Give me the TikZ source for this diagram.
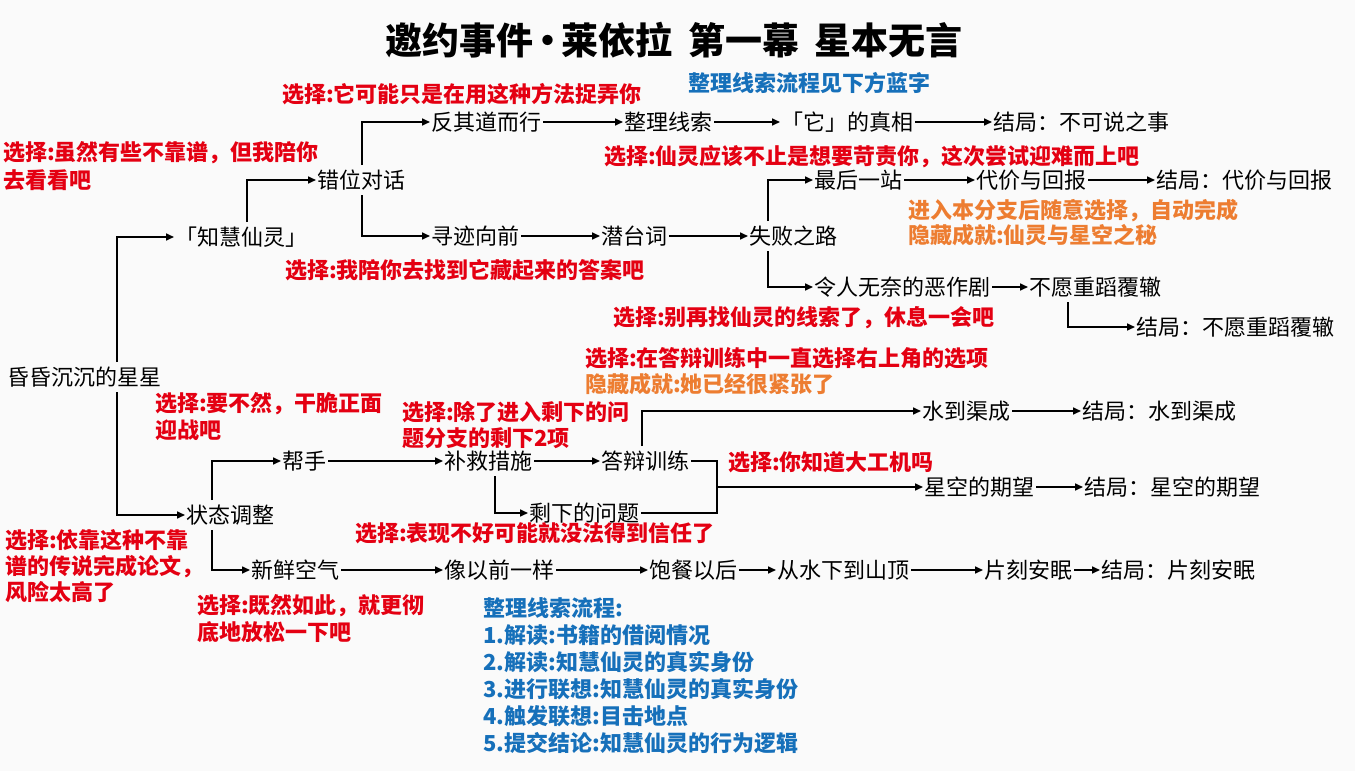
\documentclass[tikz,border=0pt]{standalone}
\usepackage{fontspec}
\setmainfont{Noto Sans CJK SC}
\usetikzlibrary{arrows.meta}
\definecolor{myred}{RGB}{228,0,18}
\definecolor{myorange}{RGB}{237,125,49}
\definecolor{myblue}{RGB}{22,112,186}
\definecolor{bgc}{RGB}{250,250,250}
\begin{document}
\begin{tikzpicture}[x=1pt,y=-1pt,
  nd/.style={inner xsep=1.5pt, inner ysep=4pt, anchor=west, font=\fontsize{22}{26}\selectfont, text height=19pt, text depth=2.6pt},
  lab/.style={inner sep=0pt, anchor=west, align=left, text=myred, font=\fontsize{22}{27}\selectfont\bfseries},
  olab/.style={lab, text=myorange},
  blab/.style={lab, text=myblue},
  ln/.style={line width=1.6pt, line join=miter},
  arr/.style={ln, -{Triangle[length=8pt,width=7pt]}}
]
\fill[bgc] (0,0) rectangle (1355,771);
\useasboundingbox (0,0) rectangle (1355,771);

% title
\node[font=\fontsize{37}{42}\selectfont\bfseries, inner sep=0pt] (title) at (674,40) {邀约事件\kern-0.12em·\kern-0.12em莱依拉\hspace{0.42em}第一幕\hspace{0.42em}星本无言};
\node[blab] (bt) at (688,83) {整理线索流程见下方蓝字};

% nodes
\node[nd] (hh) at (6,377) {昏昏沉沉的星星};
\node[nd] (zh) at (174,237) {「知慧仙灵」};
\node[nd] (cw) at (316,180) {错位对话};
\node[nd] (fq) at (430,122) {反其道而行};
\node[nd] (zl) at (623,122) {整理线索};
\node[nd] (ta) at (780,122) {「它」的真相};
\node[nd] (jb1) at (992,122) {结局：不可说之事};
\node[nd] (xj) at (430,236) {寻迹向前};
\node[nd] (qt) at (600,236) {潜台词};
\node[nd] (sb) at (748,236) {失败之路};
\node[nd] (zz) at (813,180) {最后一站};
\node[nd] (dj) at (975,180) {代价与回报};
\node[nd] (jb2) at (1155,180) {结局：代价与回报};
\node[nd] (lr) at (813,287) {令人无奈的恶作剧};
\node[nd] (by) at (1028,287) {不愿重蹈覆辙};
\node[nd] (jb3) at (1135,327) {结局：不愿重蹈覆辙};
\node[nd] (zt) at (185,515) {状态调整};
\node[nd] (bs) at (281,461) {帮手};
\node[nd] (bj) at (443,461) {补救措施};
\node[nd] (db) at (600,461) {答辩训练};
\node[nd] (sx) at (528,513) {剩下的问题};
\node[nd] (sd) at (921,411) {水到渠成};
\node[nd] (jb4) at (1081,411) {结局：水到渠成};
\node[nd] (xk) at (923,487) {星空的期望};
\node[nd] (jb5) at (1083,487) {结局：星空的期望};
\node[nd] (xx) at (250,570) {新鲜空气};
\node[nd] (xy) at (443,570) {像以前一样};
\node[nd] (bc) at (648,570) {饱餐以后};
\node[nd] (cs) at (776,570) {从水下到山顶};
\node[nd] (pk) at (983,570) {片刻安眠};
\node[nd] (jb6) at (1100,570) {结局：片刻安眠};

% labels
\node[lab] (r1) at (282,94) {选择:它可能只是在用这种方法捉弄你};
\node[lab, font=\fontsize{22}{28}\selectfont\bfseries] (r2) at (3,166) {选择:虽然有些不靠谱，但我陪你\\去看看吧};
\node[lab] (r3) at (285,270) {选择:我陪你去找到它藏起来的答案吧};
\node[lab] (r4) at (604,157) {选择:仙灵应该不止是想要苛责你，这次尝试迎难而上吧};
\node[olab, font=\fontsize{22}{25}\selectfont\bfseries] (o1) at (908,222.5) {进入本分支后随意选择，自动完成\\隐藏成就:仙灵与星空之秘};
\node[lab] (r5) at (613,318) {选择:别再找仙灵的线索了，休息一会吧};
\node[lab] (r6) at (585,358) {选择:在答辩训练中一直选择右上角的选项};
\node[olab] (o2) at (585,384) {隐藏成就:她已经很紧张了};
\node[lab] (r7) at (155,416.5) {选择:要不然，干脆正面\\迎战吧};
\node[lab, font=\fontsize{22}{26}\selectfont\bfseries] (r8) at (402,425) {选择:除了进入剩下的问\\题分支的剩下2项};
\node[lab] (r9) at (728,462) {选择:你知道大工机吗};
\node[lab] (r10) at (355,533) {选择:表现不好可能就没法得到信任了};
\node[lab, font=\fontsize{22}{26}\selectfont\bfseries] (r11) at (5,566) {选择:依靠这种不靠\\谱的传说完成论文，\\风险太高了};
\node[lab] (r12) at (197,618.5) {选择:既然如此，就更彻\\底地放松一下吧};
\node[blab] (bl) at (483,676) {整理线索流程:\\1.解读:书籍的借阅情况\\2.解读:知慧仙灵的真实身份\\3.进行联想:知慧仙灵的真实身份\\4.触发联想:目击地点\\5.提交结论:知慧仙灵的行为逻辑};

% branch coordinates
\coordinate (v1) at (117,0);
\coordinate (v2) at (247,0);
\coordinate (v3) at (362,0);
\coordinate (v4) at (768,0);
\coordinate (v5) at (1068,0);
\coordinate (v6) at (212,0);
\coordinate (v7) at (495,0);
\coordinate (v8) at (642,0);
\coordinate (j) at (717,487);

% connectors
\draw[arr] (hh.north -| v1) |- (zh.west);
\draw[arr] (hh.south -| v1) |- (zt.west);
\draw[arr] (zh.north -| v2) |- (cw.west);
\draw[arr] (cw.north -| v3) |- (fq.west);
\draw[arr] (cw.south -| v3) |- (xj.west);
\draw[arr] (fq.east) -- (zl.west);
\draw[arr] (zl.east) -- (ta.west);
\draw[arr] (ta.east) -- (jb1.west);
\draw[arr] (xj.east) -- (qt.west);
\draw[arr] (qt.east) -- (sb.west);
\draw[arr] (sb.north -| v4) |- (zz.west);
\draw[arr] (sb.south -| v4) |- (lr.west);
\draw[arr] (zz.east) -- (dj.west);
\draw[arr] (dj.east) -- (jb2.west);
\draw[arr] (lr.east) -- (by.west);
\draw[arr] (by.south -| v5) |- (jb3.west);
\draw[arr] (zt.north -| v6) |- (bs.west);
\draw[arr] (zt.south -| v6) |- (xx.west);
\draw[arr] (bs.east) -- (bj.west);
\draw[arr] (bj.east) -- (db.west);
\draw[arr] (bj.south -| v7) |- (sx.west);
\draw[arr] (db.north -| v8) |- (sd.west);
\draw[ln] (db.east) -| (j) |- (sx.east);
\draw[arr] (j) -- (xk.west);
\draw[arr] (sd.east) -- (jb4.west);
\draw[arr] (xk.east) -- (jb5.west);
\draw[arr] (xx.east) -- (xy.west);
\draw[arr] (xy.east) -- (bc.west);
\draw[arr] (bc.east) -- (cs.west);
\draw[arr] (cs.east) -- (pk.west);
\draw[arr] (pk.east) -- (jb6.west);
\end{tikzpicture}
\end{document}
